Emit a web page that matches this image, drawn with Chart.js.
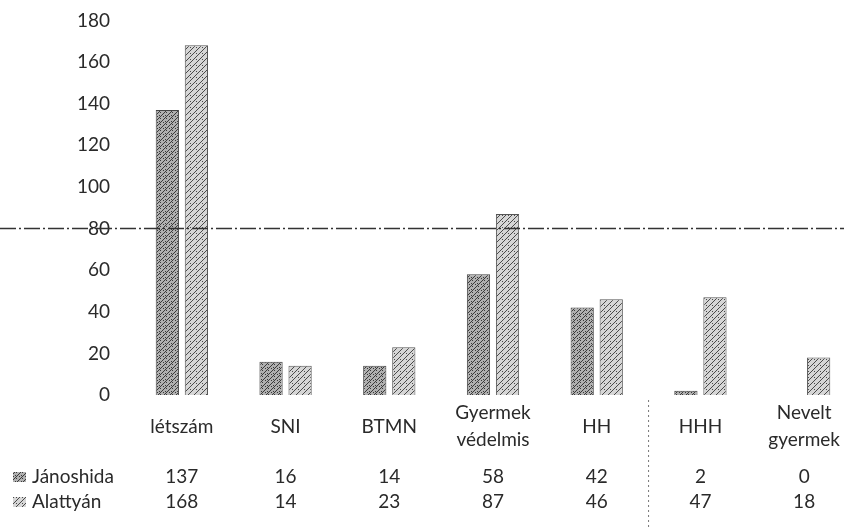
<!DOCTYPE html>
<html>
<head>
<meta charset="utf-8">
<script src="https://cdn.jsdelivr.net/npm/chart.js@4"></script>
<style>
  html,body{margin:0;padding:0;background:#fff;overflow:hidden;}
  #wrap{position:absolute;left:0;top:-11px;width:856px;height:538px;}
</style>
</head>
<body>
<div id="wrap"><canvas id="c"></canvas></div>
<script>
// chart data
const categories = ['létszám','SNI','BTMN',['Gyermek','védelmis'],'HH','HHH',['Nevelt','gyermek']];
const seriesNames = ['Jánoshida','Alattyán'];
const janoshida = [137,16,14,58,42,2,0];
const alattyan  = [168,14,23,87,46,47,18];
const yMin = 0, yMax = 180, yStep = 20;
const refLineValue = 80;

const FONT = 'Lato, "Open Sans", sans-serif';
const TXT  = '#2a2a2a';
const OFF  = 11; // canvas is shifted up by this much

// hatched textures that imitate the scan
function makePattern(bg, ink, dense){
  const t=document.createElement('canvas'); t.width=6; t.height=6;
  const g=t.getContext('2d');
  g.fillStyle=bg; g.fillRect(0,0,6,6);
  g.fillStyle=ink;
  // diagonal "/" line of dots
  for(let i=0;i<6;i++){ g.fillRect(i,5-i,1,1); }
  if(dense){ g.fillRect(1,1,1,1); g.fillRect(4,3,1,1); g.fillRect(3,0,1,1); }
  else { g.fillRect(4,4,1,1); }
  return g.createPattern(t,'repeat');
}
const patJ = makePattern('#b0b0b0','#3a3a3a',true);
const patA = makePattern('#d6d6d6','#4a4a4a',false);

const tablePlugin = {
  id:'dataTable',
  afterDraw(chart){
    const ctx=chart.ctx, xs=chart.scales.x, ys=chart.scales.y;
    ctx.save();

    // dash-dot horizontal line across the page (scan artefact)
    const yl=ys.getPixelForValue(refLineValue);
    ctx.strokeStyle='#333'; ctx.lineWidth=1.3; ctx.setLineDash([16,3,2,3]);
    ctx.beginPath(); ctx.moveTo(0,yl); ctx.lineTo(chart.width,yl); ctx.stroke();

    // dotted vertical rule in the table between HH and HHH
    const xv=(xs.getPixelForValue(4)+xs.getPixelForValue(5))/2;
    ctx.strokeStyle='#777'; ctx.lineWidth=1; ctx.setLineDash([2,3]);
    ctx.beginPath(); ctx.moveTo(xv,400+OFF); ctx.lineTo(xv,chart.height); ctx.stroke();
    ctx.setLineDash([]);

    ctx.font='19px '+FONT; ctx.fillStyle=TXT;
    ctx.textAlign='center'; ctx.textBaseline='middle';
    // category labels
    categories.forEach((lab,i)=>{
      const x=xs.getPixelForValue(i);
      if(Array.isArray(lab)){
        ctx.fillText(lab[0],x,413+OFF); ctx.fillText(lab[1],x,440+OFF);
      } else ctx.fillText(lab,x,427+OFF);
    });
    // table rows
    const rows=[[janoshida,patJ,477+OFF],[alattyan,patA,502+OFF]];
    rows.forEach(([vals,pat,y],r)=>{
      vals.forEach((v,i)=>ctx.fillText(String(v),xs.getPixelForValue(i),y));
      ctx.fillStyle=pat; ctx.fillRect(13,y-5,13,10);
      ctx.fillStyle=TXT; ctx.textAlign='left';
      ctx.fillText(seriesNames[r],32,y);
      ctx.textAlign='center';
    });
    ctx.restore();
  }
};

new Chart(document.getElementById('c'),{
  type:'bar',
  plugins:[tablePlugin],
  data:{
    labels:categories,
    datasets:[
      {label:seriesNames[0],data:janoshida,backgroundColor:patJ,borderColor:'#444',borderWidth:1},
      {label:seriesNames[1],data:alattyan, backgroundColor:patA,borderColor:'#555',borderWidth:1}
    ]
  },
  options:{
    responsive:true,maintainAspectRatio:false,animation:false,
    layout:{padding:{top:9,bottom:132,left:0,right:0}},
    plugins:{legend:{display:false},tooltip:{enabled:false}},
    datasets:{bar:{categoryPercentage:0.56,barPercentage:0.8}},
    scales:{
      x:{display:false},
      y:{
        min:yMin,max:yMax,
        ticks:{stepSize:yStep,padding:20,color:TXT,font:{family:FONT,size:19}},
        grid:{display:false,drawTicks:false},border:{display:false},
        afterFit(s){ s.width=130; }
      }
    }
  }
});
</script>
</body>
</html>
